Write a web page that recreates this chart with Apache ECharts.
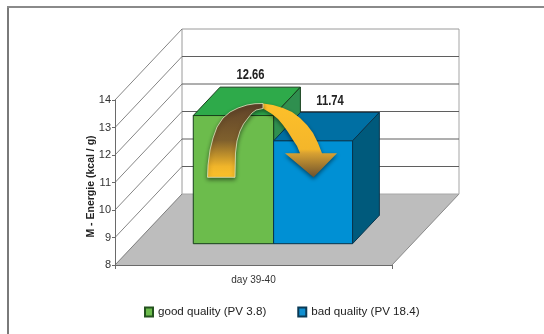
<!DOCTYPE html>
<html><head><meta charset="utf-8">
<style>html,body{margin:0;padding:0;background:#fff}#c{width:544px;height:334px}</style>
<script src="https://cdn.jsdelivr.net/npm/echarts@6/dist/echarts.min.js"></script>
</head><body><div id="c"></div>
<script>
const categories = ['day 39-40'];
const goodQuality = [12.66];
const badQuality = [11.74];
const valueTicks = [8, 9, 10, 11, 12, 13, 14];
const arrowRise = [[207.5,177.3],[208,165],[210,150],[213,138],[217,127],[223,118],[230,112],[238,108],[247,105],[255,103.7],[263,103.5],[263,108.5],[256,110],[252,113],[248,118],[243.5,124],[240,131],[237,141],[235.5,153],[235,177.3]];
const arrowFall = [[263,103.5],[273,105],[283,108],[292,112],[300,118],[307,125],[313,133],[318,143],[322,153.3],[337,153.3],[313.5,177.3],[285,153.3],[300,153.3],[297,146],[293,140],[288,132],[283,125],[278,119],[272,114],[263,108.5]];

const FONT = '"Liberation Sans", Arial, sans-serif';
const DX = 67, DY = -71;
const chart = echarts.init(document.getElementById('c'), null, {renderer: 'canvas'});

function wallItem(params, api) {
  const cs = params.coordSys, v = api.value(0), y = api.coord([0, v])[1];
  const x0 = cs.x, x1 = cs.x + cs.width, kids = [];
  const line = (a, b, c, w) => ({type: 'line', shape: {x1: a[0], y1: a[1], x2: b[0], y2: b[1]}, style: {stroke: c, lineWidth: w}});
  if (v === valueTicks[0]) {
    kids.push({type: 'polygon', shape: {points: [[x0, y], [x1, y], [x1 + DX, y + DY], [x0 + DX, y + DY]]}, style: {fill: '#bdbdbd'}});
    const top = api.coord([0, valueTicks[valueTicks.length - 1]])[1] + DY;
    kids.push(line([x0 + DX, y + DY], [x0 + DX, top], '#9a9a9a', 1));
    kids.push(line([x1 + DX, y + DY], [x1 + DX, top], '#a5a5a5', 1));
    kids.push(line([x1, y], [x1 + DX, y + DY], '#8a8a8a', 1));
  }
  const isTop = v === valueTicks[valueTicks.length - 1];
  kids.push(line([x0 + DX, y + DY], [x1 + DX, y + DY], v === valueTicks[0] ? '#a8a8a8' : (isTop ? '#9a9a9a' : '#5f5f5f'), 1));
  kids.push(line([x0, y], [x0 + DX, y + DY], '#666666', 0.8));
  return {type: 'group', children: kids};
}

function barRenderer(fromF, toF, fc, tc, sc, edge) {
  return function (params, api) {
    const v = api.value(1), p = api.coord([0, v]), base = api.coord([0, valueTicks[0]]);
    const band = api.size([1, 0])[0];
    const d0x = DX * 0.3, d0y = DY * 0.3, d1x = DX * 0.7, d1y = DY * 0.7;
    const xa = p[0] + (fromF - 0.5) * band + d0x, xb = p[0] + (toF - 0.5) * band + d0x;
    const yt = p[1] + d0y, yb = base[1] + d0y, ox = d1x - d0x, oy = d1y - d0y;
    const st = {stroke: edge, lineWidth: 1, lineJoin: 'round'};
    return {type: 'group', children: [
      {type: 'polygon', shape: {points: [[xa, yt], [xb, yt], [xb + ox, yt + oy], [xa + ox, yt + oy]]}, style: Object.assign({fill: tc}, st)},
      {type: 'polygon', shape: {points: [[xb, yt], [xb + ox, yt + oy], [xb + ox, yb + oy], [xb, yb]]}, style: Object.assign({fill: sc}, st)},
      {type: 'rect', shape: {x: xa, y: yt, width: xb - xa, height: yb - yt}, style: Object.assign({fill: fc}, st)},
      {type: 'text', x: (xa + xb) / 2 + 17, y: yt - 40, scaleX: 0.8,
        style: {text: v.toFixed(2), x: 0, y: 0, align: 'center', verticalAlign: 'middle', fill: '#222', font: 'bold 14px ' + FONT}}
    ]};
  };
}

const grad = (stops) => new echarts.graphic.LinearGradient(0, 0, 0, 1, stops.map(s => ({offset: s[0], color: s[1]})));

chart.setOption({
  animation: false,
  backgroundColor: '#ffffff',
  grid: {left: 115, top: 100, width: 277, height: 165},
  legend: {
    data: ['good quality (PV 3.8)', 'bad quality (PV 18.4)'],
    left: 144, top: 306, padding: 0, itemWidth: 8, itemHeight: 9, itemGap: 31, icon: 'rect',
    textStyle: {fontFamily: FONT, fontSize: 11.6, color: '#222'}
  },
  xAxis: {
    type: 'category', data: categories, z: 5,
    axisLine: {lineStyle: {color: '#6a6a6a', width: 1}},
    axisTick: {show: true, length: 4, lineStyle: {color: '#6a6a6a'}},
    axisLabel: {fontFamily: FONT, fontSize: 10, color: '#333', margin: 10}
  },
  yAxis: {
    type: 'value', min: 8, max: 14, interval: 1, z: 5,
    name: 'M - Energie (kcal / g)', nameLocation: 'middle', nameGap: 18, nameMoveOverlap: false,
    nameTextStyle: {fontFamily: FONT, fontSize: 10.5, fontWeight: 'bold', color: '#222', padding: [0, 8, 0, 0]},
    axisLine: {show: true, lineStyle: {color: '#6a6a6a', width: 1}},
    axisTick: {show: true, length: 3, lineStyle: {color: '#6a6a6a'}},
    axisLabel: {fontFamily: FONT, fontSize: 11, color: '#333', margin: 4},
    splitLine: {show: false}
  },
  series: [
    {type: 'custom', name: 'walls', coordinateSystem: 'cartesian2d', z: 1, silent: true,
      data: valueTicks.map(v => [v]), encode: {y: 0}, renderItem: wallItem},
    {type: 'custom', name: 'good quality (PV 3.8)', coordinateSystem: 'cartesian2d', z: 2,
      itemStyle: {color: '#6cbc4c', borderColor: '#24531f', borderWidth: 1},
      data: goodQuality.map((v, i) => [i, v]), encode: {x: 0, y: 1},
      renderItem: barRenderer(0.21, 0.5, '#6cbc4c', '#2eaa4a', '#2f8f4f', '#173f1c')},
    {type: 'custom', name: 'bad quality (PV 18.4)', coordinateSystem: 'cartesian2d', z: 3,
      itemStyle: {color: '#0f8fd0', borderColor: '#0b3a55', borderWidth: 1},
      data: badQuality.map((v, i) => [i, v]), encode: {x: 0, y: 1},
      renderItem: barRenderer(0.5, 0.785, '#0090d4', '#006fa3', '#005a7c', '#08344c')}
  ],
  graphic: [
    {type: 'line', z: 20, shape: {x1: 8, y1: 7, x2: 8, y2: 334}, style: {stroke: '#7a7a7a', lineWidth: 2}},
    {type: 'line', z: 20, shape: {x1: 7, y1: 7, x2: 544, y2: 7}, style: {stroke: '#8a8a8a', lineWidth: 2}},
    {type: 'polygon', z: 30, shape: {points: arrowFall},
      style: {fill: grad([[0, '#fdc02a'], [0.62, '#f4b62a'], [0.67, '#d9a232'], [1, '#6d512d']]),
        shadowBlur: 4, shadowOffsetY: 2, shadowColor: 'rgba(0,0,0,0.5)'}},
    {type: 'polygon', z: 31, shape: {points: arrowRise},
      style: {fill: grad([[0, '#5f4229'], [0.5, '#7f602d'], [0.85, '#f0b52a'], [1, '#fdc22a']]),
        stroke: '#dfe6c0', lineWidth: 0.8,
        shadowBlur: 4, shadowOffsetY: 2, shadowColor: 'rgba(0,0,0,0.5)'}}
  ]
});
</script></body></html>
